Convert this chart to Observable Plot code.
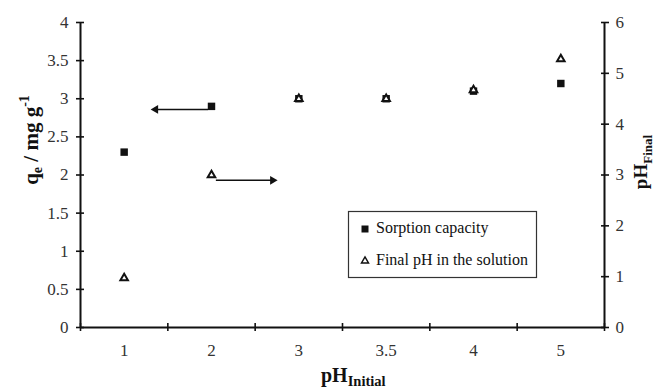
<!DOCTYPE html>
<html><head><meta charset="utf-8">
<script src="https://cdn.jsdelivr.net/npm/d3@7"></script>
<script src="https://cdn.jsdelivr.net/npm/@observablehq/plot@0.6"></script>
<style>
body{margin:0;background:#fff}
#chart{position:relative;width:657px;height:388px}
</style>
</head><body><div id="chart"></div>
<script>
const categories = ["1", "2", "3", "3.5", "4", "5"];
const sorptionCapacity = [2.30, 2.90, 3.00, 3.00, 3.10, 3.20];
const finalPH = [0.97, 3.00, 4.50, 4.50, 4.67, 5.28];
const leftTicks = [0, 0.5, 1, 1.5, 2, 2.5, 3, 3.5, 4];
const rightTicks = [0, 1, 2, 3, 4, 5, 6];
const arrows = [
  {x1: 0.96, x2: 0.36, y: 2.86, dir: -90},
  {x1: 1.05, x2: 1.70, y: 1.93, dir: 90}
];
const legendItems = ["Sorption capacity", "Final pH in the solution"];

const ratio = rightTicks[rightTicks.length - 1] / leftTicks[leftTicks.length - 1];
const idx = categories.map((d, i) => i);
const bounds = d3.range(-0.5, categories.length, 1);
const FONT = "'Liberation Serif','Times New Roman',serif";

const chart = Plot.plot({
  width: 657, height: 388,
  marginLeft: 80, marginRight: 53, marginTop: 22, marginBottom: 61,
  style: {fontFamily: FONT, fontSize: "16px", color: "#222", background: "#fff"},
  x: {domain: [-0.5, categories.length - 0.5]},
  y: {domain: [leftTicks[0], leftTicks[leftTicks.length - 1]]},
  marks: [
    // left axis
    Plot.axisY({ticks: leftTicks, tickSize: 8, dx: 4, tickFormat: () => "", label: null, strokeWidth: 1.6, stroke: "#111"}),
    Plot.axisY({ticks: leftTicks, tickSize: 0, tickPadding: 12, tickFormat: v => String(v), label: null, fontSize: 17, fill: "#333"}),
    // right axis
    Plot.axisY({anchor: "right", ticks: rightTicks.map(v => v / ratio), tickSize: 8, dx: -4, tickFormat: () => "", label: null, strokeWidth: 1.6, stroke: "#111"}),
    Plot.axisY({anchor: "right", ticks: rightTicks.map(v => v / ratio), tickSize: 0, tickPadding: 11, tickFormat: v => String(Math.round(v * ratio)), label: null, fontSize: 17, fill: "#333"}),
    // x axis
    Plot.axisX({ticks: bounds, tickSize: 8, dy: -4, tickFormat: () => "", label: null, strokeWidth: 1.6, stroke: "#111"}),
    Plot.axisX({ticks: idx, tickSize: 0, tickPadding: 16, tickFormat: i => categories[i], label: null, fontSize: 17, fill: "#333"}),
    Plot.ruleY([leftTicks[0]], {strokeWidth: 2, stroke: "#111"}),
    Plot.ruleX([bounds[0], bounds[bounds.length - 1]], {strokeWidth: 2, stroke: "#111"}),
    // arrows
    Plot.link(arrows, {x1: "x1", x2: "x2", y1: "y", y2: "y", stroke: "#111", strokeWidth: 1.5}),
    Plot.dot(arrows, {x: "x2", y: "y", symbol: "triangle", r: 3.2, fill: "#111", stroke: "none", rotate: "dir"}),
    // data
    Plot.dot(idx, {x: i => i, y: i => sorptionCapacity[i], symbol: "square", r: 4.2, fill: "#111"}),
    Plot.dot(idx, {x: i => i, y: i => finalPH[i] / ratio, symbol: "triangle", r: 2.8, fill: "white", stroke: "#111", strokeWidth: 2})
  ]
});

const svg = d3.select(chart);
// axis titles
const lt = svg.append("text")
  .attr("transform", "translate(38,140) rotate(-90)")
  .attr("text-anchor", "middle")
  .attr("font-family", FONT).attr("font-weight", "bold").attr("font-size", 21).attr("fill", "#111");
lt.append("tspan").text("q");
lt.append("tspan").text("e").attr("font-size", 14).attr("dy", 4);
lt.append("tspan").text(" / mg g").attr("dy", -4);
lt.append("tspan").text("-1").attr("font-size", 14).attr("dy", -9);

const rt = svg.append("text")
  .attr("transform", "translate(647,162) rotate(-90)")
  .attr("text-anchor", "middle")
  .attr("font-family", FONT).attr("font-weight", "bold").attr("font-size", 19).attr("fill", "#111");
rt.append("tspan").text("pH");
rt.append("tspan").text("Final").attr("font-size", 13).attr("dy", 5);

const bt = svg.append("text")
  .attr("x", 321).attr("y", 382).attr("text-anchor", "start")
  .attr("font-family", FONT).attr("font-weight", "bold").attr("font-size", 20).attr("fill", "#111");
bt.append("tspan").text("pH");
bt.append("tspan").text("Initial").attr("font-size", 14.5).attr("dy", 4);

// legend
const lg = svg.append("g").attr("font-family", FONT).attr("font-size", 16).attr("fill", "#111").attr("text-anchor", "start");
lg.append("rect").attr("x", 348.5).attr("y", 211.5).attr("width", 188).attr("height", 66)
  .attr("fill", "white").attr("stroke", "#333").attr("stroke-width", 1.2);
lg.append("path").attr("d", d3.symbol(d3.symbolSquare, 49)()).attr("transform", "translate(365,229)").attr("fill", "#111");
lg.append("text").attr("x", 376).attr("y", 233).text(legendItems[0]);
lg.append("path").attr("d", d3.symbol(d3.symbolTriangle, 22)()).attr("transform", "translate(365,261)").attr("fill", "white").attr("stroke", "#111").attr("stroke-width", 1.4);
lg.append("text").attr("x", 376).attr("y", 265).text(legendItems[1]);

document.getElementById("chart").appendChild(chart);
</script>
</body></html>
